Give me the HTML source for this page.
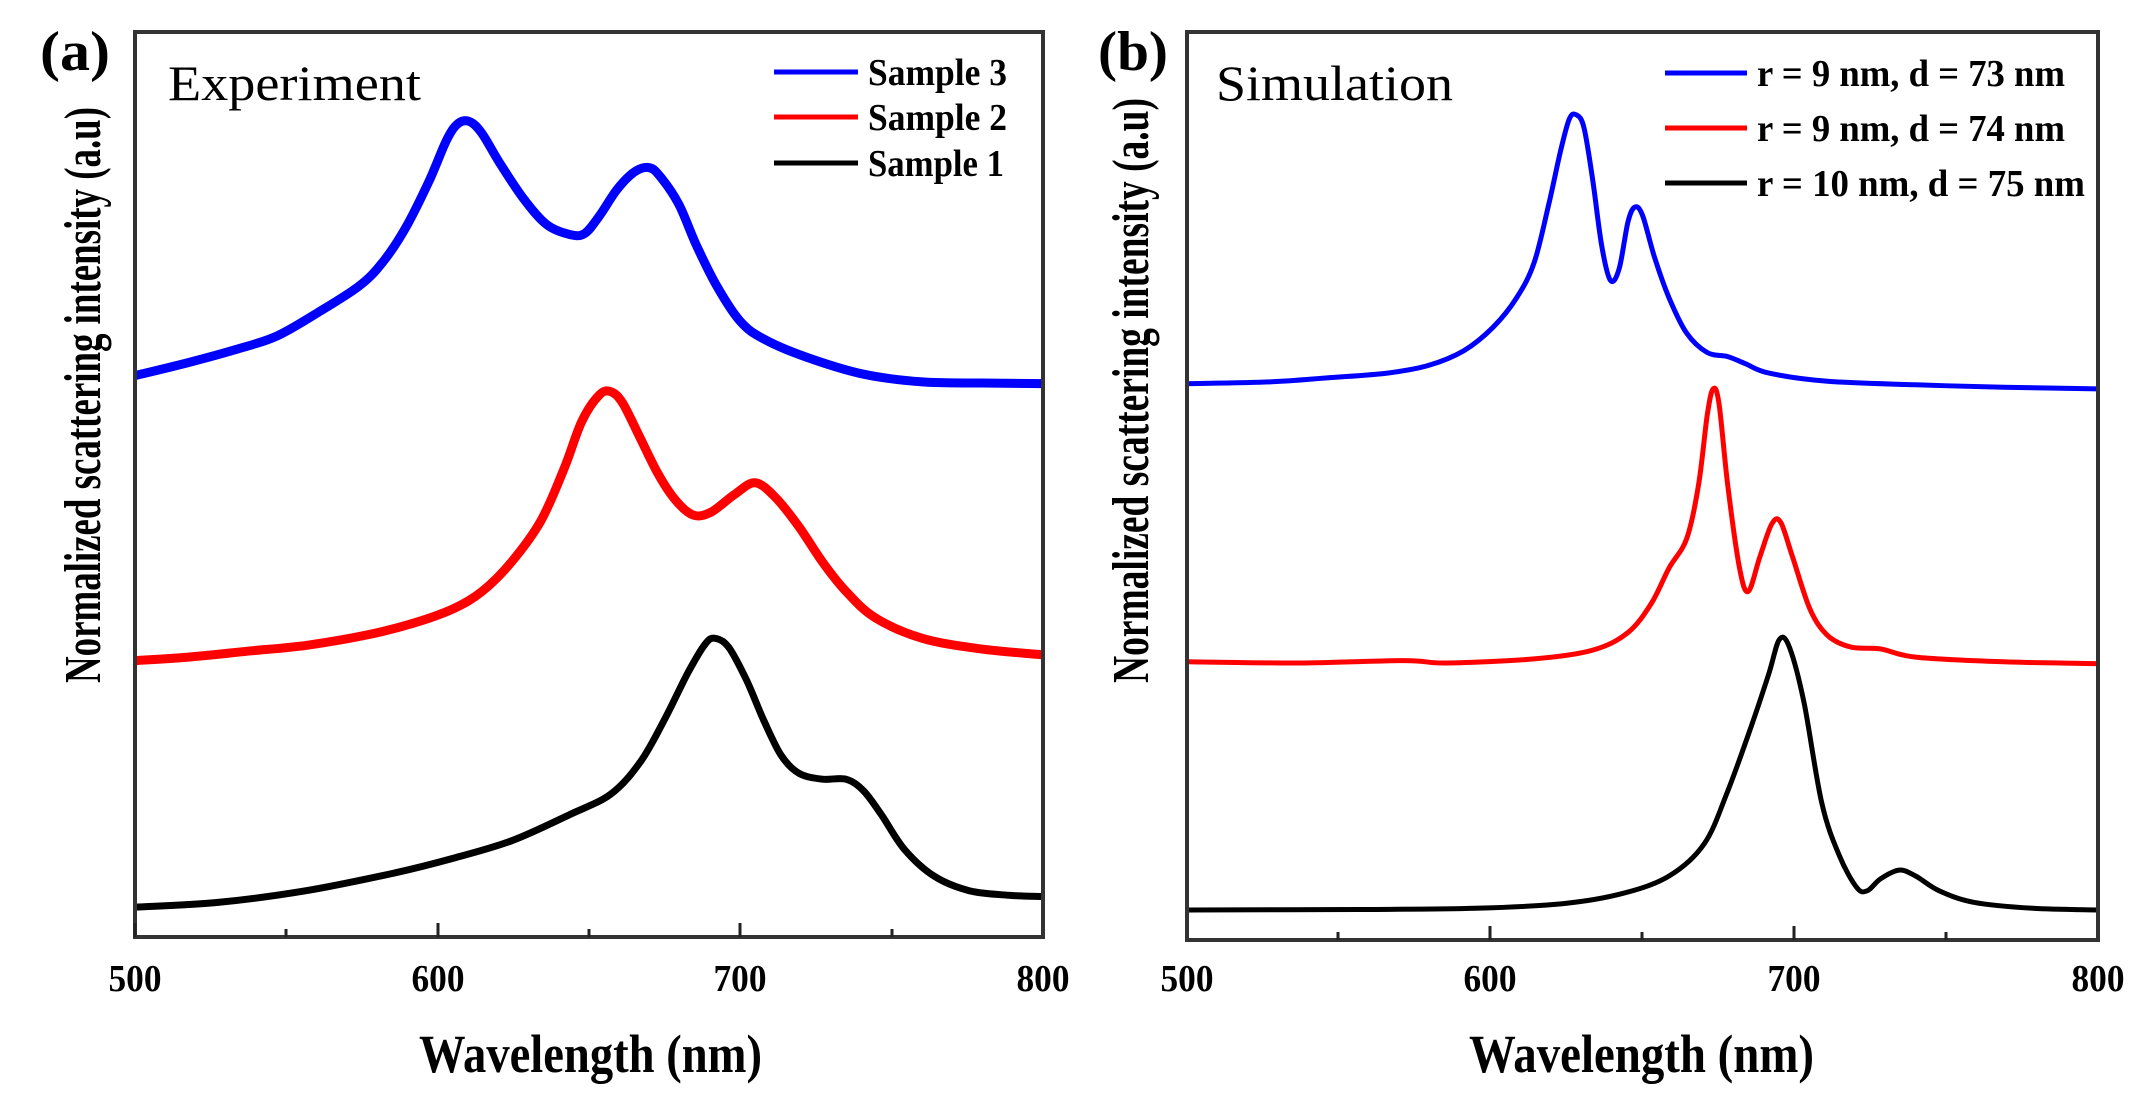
<!DOCTYPE html>
<html><head><meta charset="utf-8"><style>
html,body{margin:0;padding:0;background:#fff;}
svg{display:block;}
text{font-family:"Liberation Serif",serif;fill:#000;}
.b{font-weight:bold;}
</style></head><body>
<svg id="s" width="2144" height="1101" viewBox="0 0 2144 1101" xmlns="http://www.w3.org/2000/svg">
<rect width="2144" height="1101" fill="#fff"/>
<g id="curves"></g>
<!-- Panel a frame -->
<rect x="135" y="32" width="908" height="905" fill="none" stroke="#333" stroke-width="4"/>
<g stroke="#222" stroke-width="3">
<line x1="135" y1="937" x2="135" y2="923"/><line x1="286" y1="937" x2="286" y2="929"/>
<line x1="438" y1="937" x2="438" y2="923"/><line x1="589" y1="937" x2="589" y2="929"/>
<line x1="740" y1="937" x2="740" y2="923"/><line x1="892" y1="937" x2="892" y2="929"/>
</g>
<!-- Panel b frame -->
<rect x="1187" y="32" width="911" height="908" fill="none" stroke="#333" stroke-width="4"/>
<g stroke="#222" stroke-width="3">
<line x1="1338" y1="940" x2="1338" y2="932"/><line x1="1490" y1="940" x2="1490" y2="926"/>
<line x1="1642" y1="940" x2="1642" y2="932"/><line x1="1794" y1="940" x2="1794" y2="926"/>
<line x1="1946" y1="940" x2="1946" y2="932"/>
</g>
<!-- tick labels -->
<g class="b" font-size="38" text-anchor="middle">
<text x="135" y="991" textLength="53" lengthAdjust="spacingAndGlyphs">500</text>
<text x="438" y="991" textLength="53" lengthAdjust="spacingAndGlyphs">600</text>
<text x="740" y="991" textLength="53" lengthAdjust="spacingAndGlyphs">700</text>
<text x="1043" y="991" textLength="53" lengthAdjust="spacingAndGlyphs">800</text>
<text x="1187" y="991" textLength="53" lengthAdjust="spacingAndGlyphs">500</text>
<text x="1490" y="991" textLength="53" lengthAdjust="spacingAndGlyphs">600</text>
<text x="1794" y="991" textLength="53" lengthAdjust="spacingAndGlyphs">700</text>
<text x="2098" y="991" textLength="53" lengthAdjust="spacingAndGlyphs">800</text>
</g>
<g class="b" font-size="54">
<text x="419" y="1072" textLength="343" lengthAdjust="spacingAndGlyphs">Wavelength (nm)</text>
<text x="1469" y="1072" textLength="345" lengthAdjust="spacingAndGlyphs">Wavelength (nm)</text>
</g>
<text class="b" font-size="52" transform="translate(100,683) rotate(-90)" textLength="576" lengthAdjust="spacingAndGlyphs">Normalized scattering intensity (a.u)</text>
<text class="b" font-size="52" transform="translate(1148,683) rotate(-90)" textLength="585" lengthAdjust="spacingAndGlyphs">Normalized scattering intensity (a.u)</text>
<!-- panel labels -->
<text class="b" font-size="56" x="40" y="70" textLength="70" lengthAdjust="spacingAndGlyphs">(a)</text>
<text class="b" font-size="56" x="1098" y="70" textLength="70" lengthAdjust="spacingAndGlyphs">(b)</text>
<text font-size="50" x="168" y="100" textLength="253" lengthAdjust="spacingAndGlyphs">Experiment</text>
<text font-size="50" x="1216" y="100" textLength="237" lengthAdjust="spacingAndGlyphs">Simulation</text>
<!-- legend a -->
<g stroke-width="5">
<line x1="774" y1="72" x2="858" y2="72" stroke="#0000ff"/>
<line x1="774" y1="117" x2="858" y2="117" stroke="#ff0000"/>
<line x1="774" y1="163" x2="858" y2="163" stroke="#000"/>
</g>
<g class="b" font-size="38">
<text x="868" y="85" textLength="139" lengthAdjust="spacingAndGlyphs">Sample 3</text>
<text x="868" y="130" textLength="139" lengthAdjust="spacingAndGlyphs">Sample 2</text>
<text x="868" y="176" textLength="136" lengthAdjust="spacingAndGlyphs">Sample 1</text>
</g>
<!-- legend b -->
<g stroke-width="5">
<line x1="1665" y1="73" x2="1747" y2="73" stroke="#0000ff"/>
<line x1="1665" y1="128" x2="1747" y2="128" stroke="#ff0000"/>
<line x1="1665" y1="183" x2="1747" y2="183" stroke="#000"/>
</g>
<g class="b" font-size="38">
<text x="1757" y="86" textLength="308" lengthAdjust="spacingAndGlyphs">r = 9 nm, d = 73 nm</text>
<text x="1757" y="141" textLength="308" lengthAdjust="spacingAndGlyphs">r = 9 nm, d = 74 nm</text>
<text x="1757" y="196" textLength="328" lengthAdjust="spacingAndGlyphs">r = 10 nm, d = 75 nm</text>
</g>
</svg>
<script>
(function(){
var K=1/1.704;
function path(pts,ox,oy){
 var p=pts.map(function(a){return [ox+a[0]*K, oy+a[1]*K];});
 var d="M"+p[0][0].toFixed(1)+","+p[0][1].toFixed(1);
 for(var i=0;i<p.length-1;i++){
  var p0=p[i-1]||p[i],p1=p[i],p2=p[i+1],p3=p[i+2]||p2;
  var c1=[p1[0]+(p2[0]-p0[0])/6,p1[1]+(p2[1]-p0[1])/6];
  var c2=[p2[0]-(p3[0]-p1[0])/6,p2[1]-(p3[1]-p1[1])/6];
  d+="C"+c1[0].toFixed(1)+","+c1[1].toFixed(1)+" "+c2[0].toFixed(1)+","+c2[1].toFixed(1)+" "+p2[0].toFixed(1)+","+p2[1].toFixed(1);
 }
 return d;
}
var g=document.getElementById("curves");
function add(pts,ox,oy,col,w){
 var e=document.createElementNS("http://www.w3.org/2000/svg","path");
 e.setAttribute("d",path(pts,ox,oy));e.setAttribute("fill","none");
 e.setAttribute("stroke",col);e.setAttribute("stroke-width",w);
 e.setAttribute("stroke-linejoin","round");g.appendChild(e);
}
var aB=[[10,592],[100,570],[180,548],[250,525],[320,485],[390,440],[430,400],[470,340],[510,260],[540,190],[560,162],[580,160],[600,180],[630,230],[670,290],[710,335],[750,352],[775,350],[800,320],[830,275],[860,245],[885,238],[905,255],[935,300],[965,370],[1000,440],[1040,500],[1080,530],[1150,560],[1250,590],[1350,603],[1450,605],[1555,606]];
var aR=[[10,1078],[100,1072],[200,1062],[300,1052],[400,1035],[480,1015],[550,990],[600,960],[650,910],[700,840],[740,750],[770,670],[800,625],[820,620],[840,640],[870,700],[900,760],[930,805],[960,830],[990,825],[1030,795],[1065,775],[1100,800],[1140,850],[1180,910],[1220,960],[1270,1005],[1350,1040],[1450,1058],[1555,1068]];
var aK=[[10,1498],[150,1490],[300,1470],[450,1440],[550,1415],[650,1385],[750,1340],[820,1305],[870,1250],[910,1180],[950,1100],[980,1050],[997,1040],[1020,1055],[1050,1110],[1080,1180],[1110,1240],[1140,1270],[1180,1280],[1220,1280],[1250,1300],[1280,1340],[1320,1400],[1370,1445],[1430,1470],[1500,1478],[1555,1480]];
var bB=[[10,606],[150,603],[250,596],[350,588],[420,575],[480,550],[530,510],[570,460],[600,400],[625,300],[645,210],[660,155],[672,148],[685,170],[700,260],[715,370],[730,430],[745,410],[760,330],[772,305],[785,320],[805,390],[830,460],[860,520],[895,553],[930,560],[960,572],[1000,588],[1100,602],[1250,608],[1400,612],[1560,615]];
var bR=[[10,1080],[200,1082],[380,1078],[450,1082],[600,1075],[700,1060],[760,1030],[800,980],[830,920],[860,870],[880,780],[895,660],[905,615],[915,640],[930,780],[950,920],[965,960],[985,900],[1005,845],[1020,842],[1040,900],[1070,990],[1100,1035],[1140,1055],[1190,1058],[1250,1072],[1400,1080],[1560,1083]];
var bK=[[10,1503],[300,1502],[500,1500],[650,1492],[750,1475],[830,1445],[890,1390],[930,1300],[970,1190],[1000,1100],[1018,1042],[1035,1055],[1060,1150],[1090,1320],[1120,1410],[1150,1465],[1168,1470],[1190,1450],[1222,1435],[1250,1445],[1290,1470],[1350,1490],[1450,1500],[1560,1503]];
add(aB,130,28,"#0000ff",9);add(aR,130,28,"#ff0000",9);add(aK,130,28,"#000",7);
add(bB,1182,28,"#0000ff",5);add(bR,1182,28,"#ff0000",5);add(bK,1182,28,"#000",5);
})();
</script>
</body></html>
